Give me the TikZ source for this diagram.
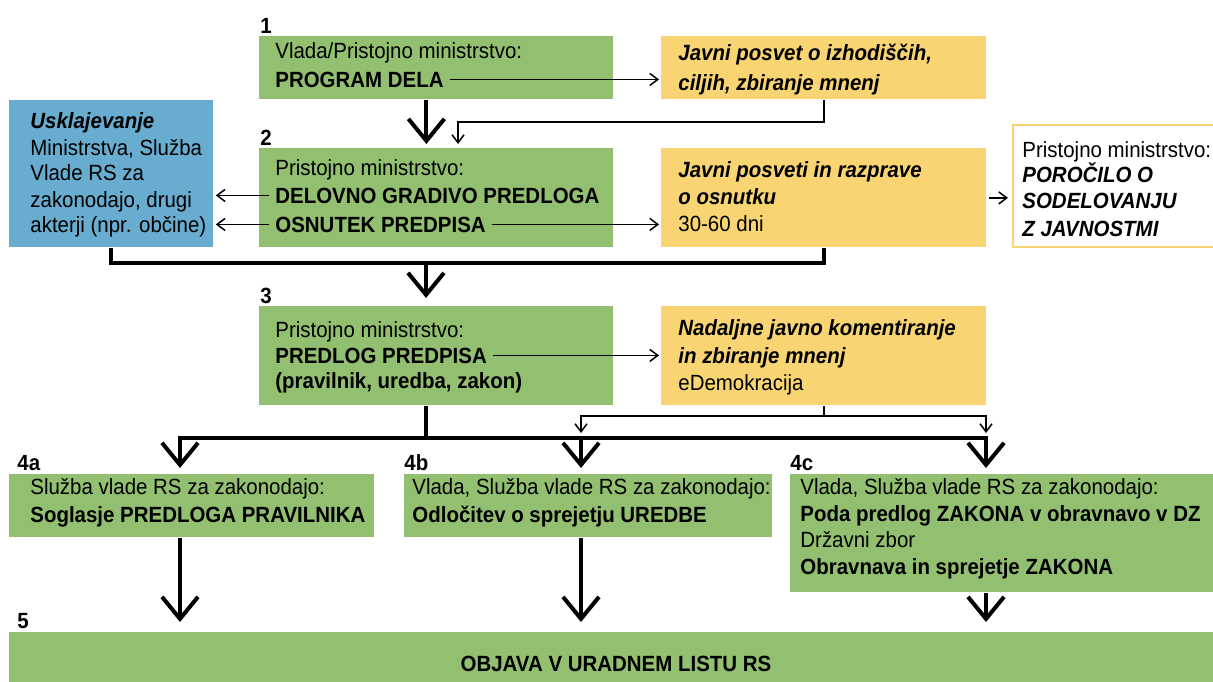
\documentclass[tikz,border=0pt]{standalone}
\usepackage{fontspec}
\setmainfont[FakeStretch=0.93]{Liberation Sans}
\usetikzlibrary{arrows.meta}
\definecolor{zelena}{RGB}{146,192,112}
\definecolor{rumena}{RGB}{248,213,114}
\definecolor{modra}{RGB}{104,172,208}
\newcommand{\velikost}{\fontsize{11}{13}\selectfont}
\tikzset{
  okvir/.style={anchor=north west, inner sep=0pt},
  zbox/.style={okvir, fill=zelena},
  rbox/.style={okvir, fill=rumena},
  vrstica/.style={anchor=base west, inner sep=0pt, font=\velikost},
  krepko/.style={vrstica, font=\velikost\bfseries},
  poudarek/.style={vrstica, font=\velikost\bfseries\itshape},
  stevilka/.style={anchor=base west, inner sep=0pt, font=\velikost\bfseries},
  tanka/.style={line width=0.75pt, -{Straight Barb[length=4pt,width=6pt]}},
  debela/.style={line width=2pt, -{Straight Barb[length=11pt,width=18pt]}},
}

\begin{document}
\begin{tikzpicture}[x=0.5pt, y=-0.5pt]
\useasboundingbox (0,0) rectangle (1213,681);

\node[zbox, minimum width=177pt, minimum height=31.5pt] (b1) at (259,36) {};
\node[rbox, minimum width=162.5pt, minimum height=31.5pt] (y1) at (661,36) {};
\node[okvir, fill=modra, minimum width=102pt, minimum height=73.5pt] (usk) at (9,100) {};
\node[zbox, minimum width=177pt, minimum height=49.5pt] (b2) at (259,148) {};
\node[rbox, minimum width=162.5pt, minimum height=49.5pt] (y2) at (661,148) {};
\node[okvir, fill=white, draw=rumena, line width=1pt, minimum width=140pt, minimum height=61pt] (por) at (1012,124) {};
\node[zbox, minimum width=177pt, minimum height=49.5pt] (b3) at (259,306) {};
\node[rbox, minimum width=162.5pt, minimum height=49.5pt] (y3) at (661,306) {};
\node[zbox, minimum width=182.5pt, minimum height=31.5pt] (b4a) at (9,474) {};
\node[zbox, minimum width=184pt, minimum height=31.5pt] (b4b) at (404,474) {};
\node[zbox, minimum width=225pt, minimum height=59pt] (b4c) at (790,474) {};
\node[zbox, minimum width=615pt, minimum height=35pt] (b5) at (9,632) {};

\node[stevilka] (n1) at (260,33) {1};
\node[stevilka] (n2) at (260,145) {2};
\node[stevilka] (n3) at (260,303) {3};
\node[stevilka] (n4a) at (17,470) {4a};
\node[stevilka] (n4b) at (404,470) {4b};
\node[stevilka] (n4c) at (790,470) {4c};
\node[stevilka] (n5) at (17,628) {5};

\node[vrstica] (t1a) at (275,58) {Vlada/Pristojno ministrstvo:};
\node[krepko] (t1b) at (275,87) {PROGRAM DELA};
\node[poudarek] (s1a) at (678,60) {Javni posvet o izhodiščih,};
\node[poudarek] (s1b) at (678,90) {ciljih, zbiranje mnenj};

\node[poudarek] (u1) at (30,128) {Usklajevanje};
\node[vrstica] (u2) at (30,155) {Ministrstva, Služba};
\node[vrstica] (u3) at (30,180) {Vlade RS za};
\node[vrstica] (u4) at (30,207) {zakonodajo, drugi};
\node[vrstica] (u5) at (30,232) {akterji (npr. občine)};

\node[vrstica] (t2a) at (275,175) {Pristojno ministrstvo:};
\node[krepko] (t2b) at (275,203) {DELOVNO GRADIVO PREDLOGA};
\node[krepko] (t2c) at (275,232) {OSNUTEK PREDPISA};
\node[poudarek] (s2a) at (678,177) {Javni posveti in razprave};
\node[poudarek] (s2b) at (678,204) {o osnutku};
\node[vrstica] (s2c) at (678,231) {30-60 dni};

\node[vrstica] (p1) at (1022,157) {Pristojno ministrstvo:};
\node[poudarek] (p2) at (1022,182) {POROČILO O};
\node[poudarek] (p3) at (1022,208) {SODELOVANJU};
\node[poudarek] (p4) at (1022,236) {Z JAVNOSTMI};

\node[vrstica] (t3a) at (275,337) {Pristojno ministrstvo:};
\node[krepko] (t3b) at (275,363) {PREDLOG PREDPISA};
\node[krepko] (t3c) at (275,388) {(pravilnik, uredba, zakon)};
\node[poudarek] (s3a) at (678,335) {Nadaljne javno komentiranje};
\node[poudarek] (s3b) at (678,363) {in zbiranje mnenj};
\node[vrstica] (s3c) at (678,390) {eDemokracija};

\node[vrstica] (a1) at (30,494) {Služba vlade RS za zakonodajo:};
\node[krepko] (a2) at (30,522) {Soglasje PREDLOGA PRAVILNIKA};
\node[vrstica] (v1) at (412,494) {Vlada, Služba vlade RS za zakonodajo:};
\node[krepko] (v2) at (412,522) {Odločitev o sprejetju UREDBE};
\node[vrstica] (z1) at (800,494) {Vlada, Služba vlade RS za zakonodajo:};
\node[krepko] (z2) at (800,521) {Poda predlog ZAKONA v obravnavo v DZ};
\node[vrstica] (z3) at (800,547) {Državni zbor};
\node[krepko] (z4) at (800,574) {Obravnava in sprejetje ZAKONA};

\node[inner sep=0pt, font=\velikost\bfseries] (t5) at (616,664) {OBJAVA V URADNEM LISTU RS};

\coordinate (k1) at (458,122);
\coordinate (j2) at (426,263);
\coordinate (c4a) at (180,438);
\coordinate (c4b) at (581,438);
\coordinate (c4c) at (986,438);
\coordinate (d4b) at (581,416);
\coordinate (e4b) at (581,433);
\coordinate (e4c) at (986,433);

\draw[tanka, shorten <=3pt, shorten >=1pt] (t1b.east) -- (t1b.east -| y1.west);
\draw[tanka, shorten >=2pt] (y1.south) |- (k1) -- (k1 |- b2.north);
\draw[debela, shorten >=2pt] ([xshift=-5pt]b1.south) -- ([xshift=-5pt]b2.north);

\draw[tanka, shorten <=3pt, shorten >=1pt] (t2b.west) -- (t2b.west -| usk.east);
\draw[tanka, shorten <=3pt, shorten >=1pt] (t2c.west) -- (t2c.west -| usk.east);
\draw[tanka, shorten <=3pt, shorten >=1pt] (t2c.east) -- (t2c.east -| y2.west);
\draw[tanka, shorten <=1pt, shorten >=2pt] (y2.east) -- (y2.east -| por.west);
\draw[line width=2pt] (usk.south) |- (j2) -| (y2.south);
\draw[debela, shorten >=4pt] (j2) -- (j2 |- b3.north);

\draw[tanka, shorten <=3pt, shorten >=1pt] (t3b.east) -- (t3b.east -| y3.west);
\draw[tanka] (y3.south) |- (d4b) -- (e4b);
\draw[tanka] (d4b) -| (e4c);
\draw[debela, shorten >=3pt] ([xshift=-5pt]b3.south) |- (c4a) -- (c4a |- b4a.north);
\draw[debela, shorten >=3pt] ([xshift=-5pt]b3.south) |- (c4c) -- (c4c |- b4c.north);
\draw[debela, shorten >=3pt] (c4b) -- (c4b |- b4b.north);

\draw[debela, shorten >=5pt] (c4a |- b4a.south) -- (c4a |- b5.north);
\draw[debela, shorten >=5pt] (c4b |- b4b.south) -- (c4b |- b5.north);
\draw[debela, shorten >=5pt] (c4c |- b4c.south) -- (c4c |- b5.north);
\end{tikzpicture}
\end{document}
